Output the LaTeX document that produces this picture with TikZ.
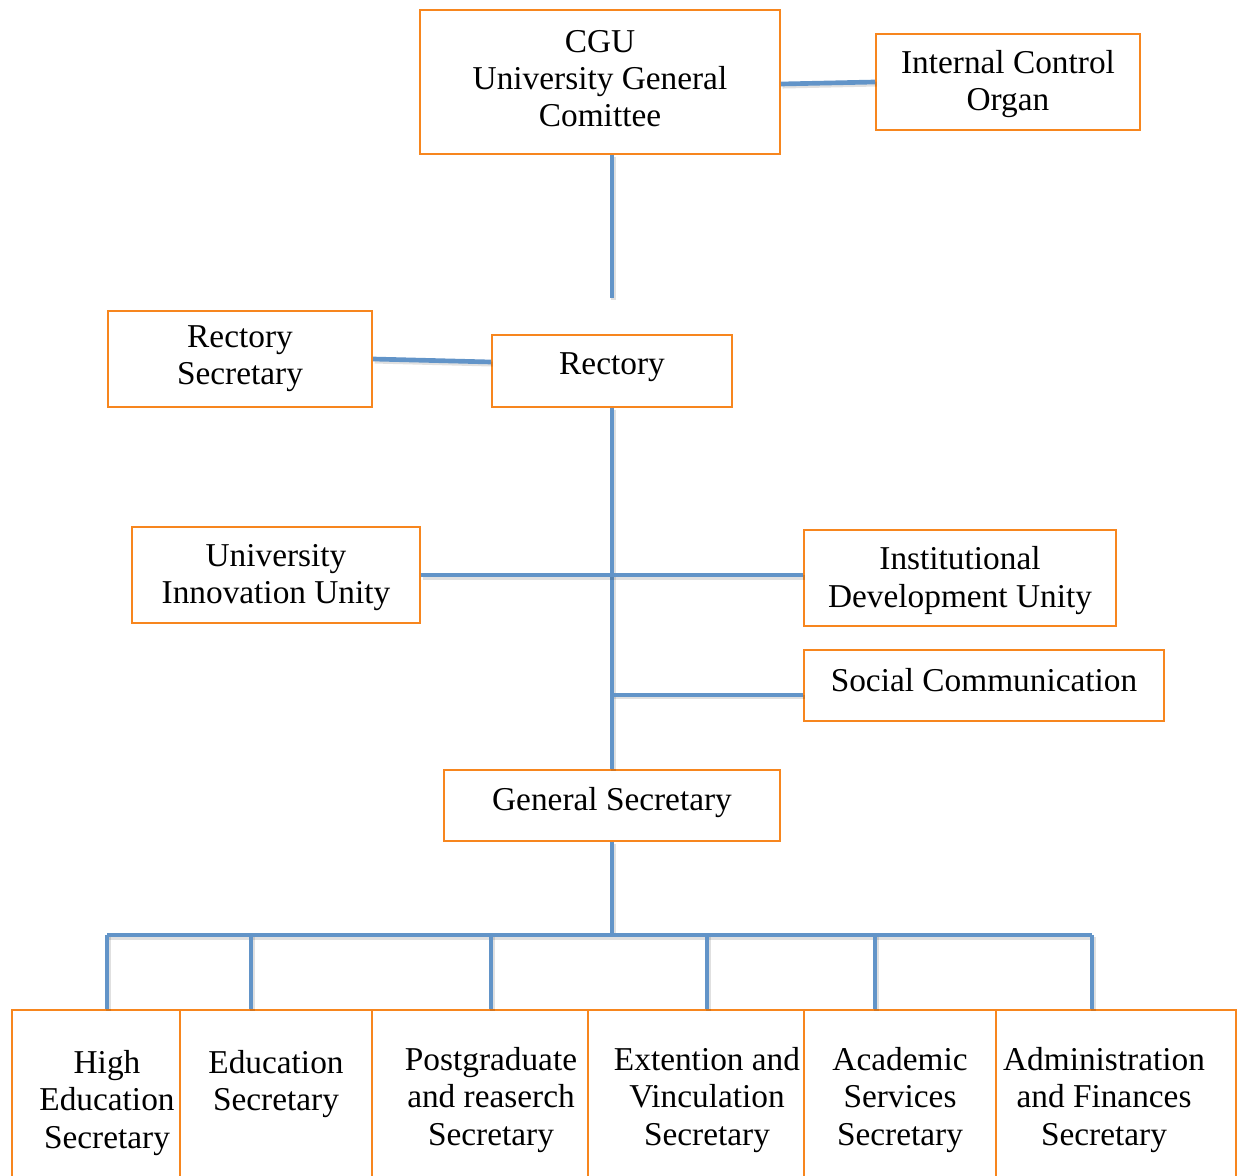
\documentclass[tikz,border=0pt]{standalone}
\usepackage{fontspec}
\setmainfont{Liberation Serif}
\definecolor{orgline}{RGB}{247,134,30}
\definecolor{wireblue}{RGB}{98,148,200}
\newcommand\orgbox[6]{\node[box,minimum width={(#4-#2)*0.75pt},minimum height={(#5-#3)*0.75pt}] (#1) at ({(#2+#4)/2},{(#3+#5)/2}) {#6};}
\newcommand\up[2]{\raisebox{#1}[\height][\depth]{#2}}
\begin{document}
\begin{tikzpicture}[x=0.75pt,y=-0.75pt,
  box/.style={draw=orgline,line width=1.5pt,inner sep=0pt,align=center,font=\fontsize{25}{28}\selectfont},
  wire/.style={draw=wireblue,line width=3.5pt,preaction={draw=black,opacity=0.12,line width=3.6pt,transform canvas={shift={(1.2pt,-1.6pt)}}}},
  lbl/.style={align=center,inner sep=0pt,anchor=north,font=\fontsize{25}{28}\selectfont}]
\useasboundingbox (0,0) rectangle (1238,1176);
\clip (0,0) rectangle (1238,1176);
% boxes
\orgbox{cgu}{420}{10}{780}{154}{\up{2.5pt}{CGU}\\\up{2.5pt}{University General}\\\up{2.5pt}{Comittee}}
\orgbox{ico}{876}{34}{1140}{130}{\up{-1.5pt}{Internal Control}\\\up{-1.5pt}{Organ}}
\orgbox{rs}{108}{311}{372}{407}{Rectory\\Secretary}
\orgbox{rect}{492}{335}{732}{407}{\up{2.5pt}{Rectory}}
\orgbox{uiu}{132}{527}{420}{623}{\up{-2pt}{University}\\\up{-2pt}{Innovation Unity}}
\orgbox{idu}{804}{530}{1116}{626}{\up{-2pt}{Institutional}\\\up{-2pt}{Development Unity}}
\orgbox{sc}{804}{650}{1164}{721}{\up{4pt}{Social Communication}}
\orgbox{gs}{444}{770}{780}{841}{\up{2.5pt}{General Secretary}}
\orgbox{b1}{12}{1010}{180}{1200}{}
\orgbox{b2}{180}{1010}{372}{1200}{}
\orgbox{b3}{372}{1010}{588}{1200}{}
\orgbox{b4}{588}{1010}{804}{1200}{}
\orgbox{b5}{804}{1010}{996}{1200}{}
\orgbox{b6}{996}{1010}{1236}{1200}{}
% bottom labels
\node[lbl] (t1) at (107,1050) {High\\Education\\Secretary};
\node[lbl] (t2) at (276,1050) {Education\\Secretary};
\node[lbl] (t3) at (491,1047) {Postgraduate\\and reaserch\\Secretary};
\node[lbl] (t4) at (707,1047) {Extention and\\Vinculation\\Secretary};
\node[lbl] (t5) at (900,1047) {Academic\\Services\\Secretary};
\node[lbl] (t6) at (1104,1047) {Administration\\and Finances\\Secretary};
% coordinates
\coordinate (cguend) at (612,298);
\coordinate (d1) at (107,935);
\coordinate (d2) at (251,935);
\coordinate (d3) at (491,935);
\coordinate (d4) at (707,935);
\coordinate (d5) at (875,935);
\coordinate (d6) at (1092,935);
% connectors
\draw[wire] ([yshift=-1.5pt]cgu.east) -- (ico.west);
\draw[wire] (cgu.south -| rect.north) -- (cguend);
\draw[wire] (rs.east) -- ([yshift=6.75pt]rect.west);
\draw[wire] (rect.south) -- (gs.north -| rect.south);
\draw[wire] (uiu.east) -- (idu.west |- uiu.east);
\draw[wire] ([yshift=-7pt]sc.west -| rect.south) -- ([yshift=-7pt]sc.west);
\draw[wire] (gs.south -| rect.south) -- (d1 -| rect.south);
\draw[wire] (d1) -- (d6);
\draw[wire] (d1) -- (d1 |- b1.north);
\draw[wire] (d2) -- (d2 |- b2.north);
\draw[wire] (d3) -- (d3 |- b3.north);
\draw[wire] (d4) -- (d4 |- b4.north);
\draw[wire] (d5) -- (d5 |- b5.north);
\draw[wire] (d6) -- (d6 |- b6.north);
\end{tikzpicture}
\end{document}
